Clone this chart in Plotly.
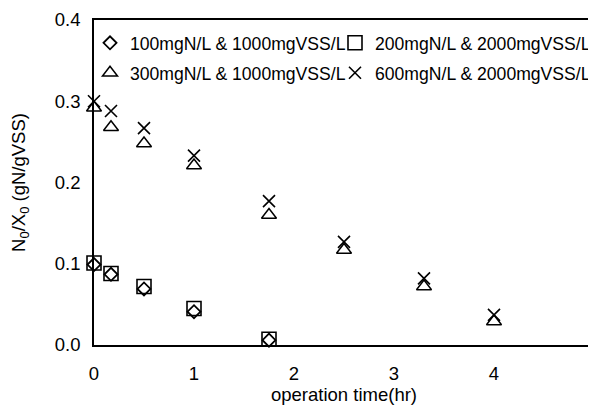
import plotly.graph_objects as go

# Data
x_low = [0, 0.17, 0.5, 1.0, 1.75]
y_100 = [0.099, 0.087, 0.069, 0.041, 0.006]
y_200 = [0.101, 0.088, 0.072, 0.045, 0.007]
x_high = [0, 0.17, 0.5, 1.0, 1.75, 2.5, 3.3, 4.0]
y_300 = [0.292, 0.268, 0.248, 0.221, 0.160, 0.117, 0.072, 0.029]
y_600 = [0.300, 0.288, 0.267, 0.233, 0.177, 0.127, 0.082, 0.037]

names = ["100mgN/L & 1000mgVSS/L", "200mgN/L & 2000mgVSS/L",
         "300mgN/L & 1000mgVSS/L", "600mgN/L & 2000mgVSS/L"]
x_ticks = [0, 1, 2, 3, 4, 5]
y_ticks = [0.0, 0.1, 0.2, 0.3, 0.4]

FONT = "Liberation Sans, Arial, Helvetica, sans-serif"
FS = 18.5
LFS = 17.6

fig = go.Figure()
fig.add_trace(go.Scatter(x=x_low, y=y_100, mode="markers", name=names[0],
                         legend="legend", legendgroup="a", cliponaxis=False,
                         marker=dict(symbol="diamond-open", size=10, color="black",
                                     line=dict(width=1.8, color="black"))))
fig.add_trace(go.Scatter(x=x_low, y=y_200, mode="markers", name=names[1],
                         legend="legend2", legendgroup="b", cliponaxis=False,
                         marker=dict(symbol="square-open", size=14, color="black",
                                     line=dict(width=1.6, color="black"))))
fig.add_trace(go.Scatter(x=x_high, y=y_300, mode="markers", name=names[2],
                         legend="legend", legendgroup="c", cliponaxis=False,
                         marker=dict(symbol="triangle-up-open", size=13, color="black",
                                     line=dict(width=1.5, color="black"))))
fig.add_trace(go.Scatter(x=x_high, y=y_600, mode="markers", name=names[3],
                         legend="legend2", legendgroup="d", cliponaxis=False,
                         marker=dict(symbol="x-thin-open", size=12, color="black",
                                     line=dict(width=1.6, color="black"))))

legend_common = dict(orientation="v", bgcolor="rgba(0,0,0,0)", borderwidth=0,
                     font=dict(family=FONT, size=LFS, color="black"),
                     tracegroupgap=4, yanchor="top", xanchor="left",
                     itemsizing="trace")

fig.update_layout(
    width=596, height=409,
    margin=dict(l=86, r=10, t=12, b=72, autoexpand=False),
    paper_bgcolor="white", plot_bgcolor="white",
    font=dict(family=FONT, size=FS, color="black"),
    showlegend=True,
    legend=dict(x=-0.008, y=0.985, **legend_common),
    legend2=dict(x=0.482, y=0.985, **legend_common),
    xaxis=dict(range=[0, 5], tickvals=x_ticks, ticktext=[str(v) for v in x_ticks],
               showgrid=False, zeroline=False, showline=True, linecolor="black",
               linewidth=1.5, mirror=True, ticks="", ticklabelstandoff=11,
               automargin=False,
               title=dict(text="operation time(hr)", standoff=2,
                          font=dict(family=FONT, size=FS))),
    yaxis=dict(range=[0, 0.4], tickvals=y_ticks, ticktext=[f"{v:.1f}" for v in y_ticks],
               showgrid=False, zeroline=False, showline=True, linecolor="black",
               linewidth=1.5, mirror=False, ticks="", ticklabelstandoff=8,
               automargin=False,
               title=dict(text="N<sub>0</sub>/X<sub>0</sub> (gN/gVSS)", standoff=30,
                          font=dict(family=FONT, size=FS))),
)

fig.write_html("out.html")
